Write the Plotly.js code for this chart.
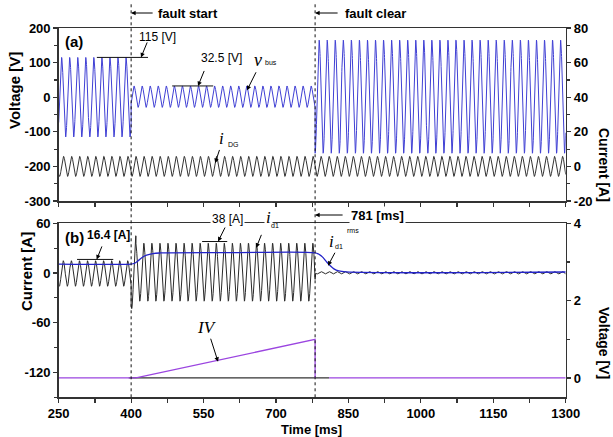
<!DOCTYPE html>
<html><head><meta charset="utf-8">
<script src="https://cdn.plot.ly/plotly-3.0.1.min.js"></script>
<style>html,body{margin:0;padding:0;background:#fff}#chart{width:613px;height:437px}</style>
</head><body><div id="chart"></div>
<script>
// ---------- data ----------
const gridFreqHz = 60;                      // waveform frequency
const segEdges   = [250, 400, 781, 1300];   // ms: before fault / fault / after clear
const vbusAmp    = [115, 31, 163.5];        // V peak per segment
const vbusOffset = [0, 1.5, 1.5];
const vbusPeakMs = 256;
const iDGAmp     = [5.8, 5.8, 5.8];         // A peak per segment
const iDGOffset  = [0, 0, 0];
const iDGPeakMs  = 260;
const id1Edges   = [250, 400, 410, 781, 1300];
const id1Amp     = [15.4, 44, 35, 1.5];     // A peak per segment
const id1Offset  = [-0.6, 1, 1, 0.3];
const id1PeakMs  = 259.5;
const rmsTime = [250, 400, 406, 414, 422, 432, 445, 460, 600, 781, 788, 796, 804, 812, 820, 830, 845, 1300];
const rmsAmp  = [10.8, 10.8, 11.5, 14.5, 18.5, 21.5, 23.5, 24.2, 24.6, 24.4, 23, 19.5, 14, 9, 5, 2.5, 1.3, 1.2];
const ivTime = [250, 400, 410, 781, 781, 781, 810, 1300];
const ivVolt = [0, 0, 0, 1.0, 0, null, 0, 0];
const baseTime = [395, 810];
const baseVolt = [0, 0];
const faultStartMs = 400, faultClearMs = 781;
const xTickVals  = [250, 400, 550, 700, 850, 1000, 1150, 1300];
const xTickText  = ['250', '400', '550', '700', '850', '1000', '1150', '1300'];
const yaTickVals = [200, 100, 0, -100, -200, -300];
const yaTickText = ['200', '100', '0', '-100', '-200', '-300'];
const ya2TickVals = [80, 60, 40, 20, 0, -20];
const ya2TickText = ['80', '60', '40', '20', '0', '-20'];
const ybTickVals = [60, 0, -60, -120];
const ybTickText = ['60', '0', '-60', '-120'];
const yb2TickVals = [4, 2, 0];
const yb2TickText = ['4', '2', '0'];

// ---------- build sampled waveforms from the segment values ----------
function wave(edges, amps, offs, peakMs) {
  const xs = [], ys = [];
  for (let s = 0; s < amps.length; s++) {
    for (let t = edges[s]; t <= edges[s + 1] + 1e-9; t += 0.2) {
      xs.push(t);
      ys.push(offs[s] + amps[s] * Math.cos(2 * Math.PI * gridFreqHz * (t - peakMs) / 1000));
    }
  }
  return {xs, ys};
}
const vb = wave(segEdges, vbusAmp, vbusOffset, vbusPeakMs);
const dg = wave(segEdges, iDGAmp, iDGOffset, iDGPeakMs);
const d1 = wave(id1Edges, id1Amp, id1Offset, id1PeakMs);

const traces = [
  {x: vb.xs, y: vb.ys, xaxis: 'x', yaxis: 'y', mode: 'lines', line: {color: '#4040d4', width: 1}},
  {x: dg.xs, y: dg.ys, xaxis: 'x', yaxis: 'y2', mode: 'lines', line: {color: '#333333', width: 1}},
  {x: d1.xs, y: d1.ys, xaxis: 'x2', yaxis: 'y3', mode: 'lines', line: {color: '#2a2a2a', width: 1}},
  {x: rmsTime, y: rmsAmp, xaxis: 'x2', yaxis: 'y3', mode: 'lines', line: {color: '#2323c8', width: 1.3, shape: 'spline'}},
  {x: baseTime, y: baseVolt, xaxis: 'x2', yaxis: 'y4', mode: 'lines', line: {color: '#333333', width: 1.3}},
  {x: ivTime, y: ivVolt, xaxis: 'x2', yaxis: 'y4', mode: 'lines', connectgaps: false, line: {color: '#9b45e0', width: 1.3}}
];

const W = 613, H = 437;
const px = v => v / W, py = v => 1 - v / H;
const XD = [px(58.7), px(565.7)];
const tf = {family: 'Liberation Sans, Arial, sans-serif', size: 13, color: '#000', weight: 'bold'};
const bold = arr => arr.map(s => '<b>' + s + '</b>');
const axLine = {showline: true, linecolor: '#333', linewidth: 1.5, showgrid: false, zeroline: false,
  ticks: 'outside', ticklen: 4, tickwidth: 1.2, tickcolor: '#333', tickfont: tf};

const layout = {
  width: W, height: H, margin: {l: 0, r: 0, t: 0, b: 0},
  paper_bgcolor: '#fff', plot_bgcolor: '#fff', showlegend: false,
  xaxis: Object.assign({}, axLine, {domain: XD, anchor: 'y', range: [250, 1300], tickvals: xTickVals,
    showticklabels: false, mirror: true, minor: {dtick: 75, tick0: 250, ticks: 'outside', ticklen: 4, tickcolor: '#333'}}),
  yaxis: Object.assign({}, axLine, {domain: [py(201), py(28)], anchor: 'x', range: [-300, 200],
    tickvals: yaTickVals, ticktext: bold(yaTickText),
    minor: {dtick: 50, ticks: 'outside', ticklen: 3, tickcolor: '#333'}}),
  yaxis2: Object.assign({}, axLine, {overlaying: 'y', side: 'right', anchor: 'x', range: [-20, 80],
    tickvals: ya2TickVals, ticktext: bold(ya2TickText),
    minor: {dtick: 10, ticks: 'outside', ticklen: 3, tickcolor: '#333'}}),
  xaxis2: Object.assign({}, axLine, {domain: XD, anchor: 'y3', range: [250, 1300],
    tickvals: xTickVals, ticktext: bold(xTickText),
    mirror: true, minor: {dtick: 75, tick0: 250, ticks: 'outside', ticklen: 4, tickcolor: '#333'}}),
  yaxis3: Object.assign({}, axLine, {domain: [py(397.3), py(223.3)], anchor: 'x2', range: [-150, 60],
    tickvals: ybTickVals, ticktext: bold(ybTickText),
    minor: {dtick: 30, tick0: 0, ticks: 'outside', ticklen: 3, tickcolor: '#333'}}),
  yaxis4: Object.assign({}, axLine, {overlaying: 'y3', side: 'right', anchor: 'x2', range: [-0.5, 4],
    tickvals: yb2TickVals, ticktext: bold(yb2TickText),
    minor: {dtick: 1, tick0: 0, ticks: 'outside', ticklen: 3, tickcolor: '#333'}}),
  shapes: [faultStartMs, faultClearMs].map(t => ({type: 'line', xref: 'x', yref: 'paper', x0: t, x1: t,
    y0: py(397.3), y1: py(3), line: {color: '#111', width: 1, dash: 'dot'}})).concat([
    {type: 'line', xref: 'x', yref: 'y', x0: 329, x1: 435, y0: vbusAmp[0], y1: vbusAmp[0], line: {color: '#111', width: 1}},
    {type: 'line', xref: 'x', yref: 'y', x0: 485, x1: 570, y0: 32.5, y1: 32.5, line: {color: '#111', width: 1}},
    {type: 'line', xref: 'x2', yref: 'y3', x0: 288, x1: 363, y0: 16.4, y1: 16.4, line: {color: '#111', width: 1}},
    {type: 'line', xref: 'x2', yref: 'y3', x0: 547, x1: 599, y0: 38, y1: 38, line: {color: '#111', width: 1}}
  ])
};

const serif = 'Liberation Serif, Times New Roman, serif';
function txt(x, y, text, size, opts) {
  return Object.assign({xref: 'paper', yref: 'paper', x: px(x), y: py(y), text: text, showarrow: false,
    xanchor: 'center', yanchor: 'middle', font: {family: tf.family, size: size, color: '#000'}}, opts || {});
}
function arrow(xref, yref, x, y, ax, ay) {
  return {xref: xref, yref: yref, x: x, y: y, ax: ax, ay: ay, text: ' ', showarrow: true,
    arrowhead: 2, arrowsize: 0.9, arrowwidth: 1, arrowcolor: '#000', standoff: 0, startstandoff: 0, font: {size: 1}};
}
const B = s => '<b>' + s + '</b>';
layout.annotations = [
  txt(14, 91, B('Voltage [V]'), 15, {textangle: -90}),
  txt(26, 272, B('Current [A]'), 15, {textangle: -90}),
  txt(604, 165, B('Current [A]'), 14, {textangle: 90}),
  txt(604, 343, B('Voltage [V]'), 14, {textangle: 90}),
  txt(311, 429, B('Time [ms]'), 13),
  txt(74, 41, B('(a)'), 15),
  txt(74, 237, B('(b)'), 15),
  txt(188, 13, B('fault start'), 13),
  txt(375, 13, B('fault clear'), 13),
  txt(378, 215, B('781 [ms]'), 13, {bgcolor: '#fff'}),
  txt(157, 37, '115 [V]', 12),
  txt(221, 58, '32.5 [V]', 12),
  txt(258, 60, '<i>v</i>', 18, {font: {family: serif, size: 18, color: '#000'}}),
  txt(271, 63, 'bus', 7),
  txt(221, 138, '<i>i</i>', 17, {font: {family: serif, size: 17, color: '#000'}}),
  txt(234, 145, 'DG', 7),
  txt(108, 235, B('16.4 [A]'), 12),
  txt(227, 219, '38 [A]', 12, {bgcolor: '#fff'}),
  txt(268, 217, '<i>i</i>', 17, {font: {family: serif, size: 17, color: '#000'}, bgcolor: '#fff'}),
  txt(275, 225, 'd1', 7),
  txt(331, 241, '<i>i</i>', 17, {font: {family: serif, size: 17, color: '#000'}}),
  txt(353, 231, 'rms', 7),
  txt(339, 247, 'd1', 7),
  txt(207, 327, '<i>IV</i>', 17, {font: {family: serif, size: 17, color: '#000'}}),
  arrow('x', 'y', 420.4, 115, 7, -17),
  arrow('x', 'y', 538.5, 32.5, 7, -17),
  arrow('x', 'y', 640, 20, 10, -20),
  arrow('x', 'y2', 574, 2, 5, -15),
  arrow('x2', 'y3', 328.7, 16.4, 6, -15),
  arrow('x2', 'y3', 580, 38, 8, -16),
  arrow('x2', 'y3', 659, 30.4, 6, -15),
  arrow('x2', 'y3', 807.7, 8.8, 8, -15),
  arrow('x2', 'y4', 580, 0.42, -8, -25),
  arrow('x', 'paper', faultStartMs, py(13), 23, 0),
  arrow('x', 'paper', faultClearMs, py(13), 24, 0),
  arrow('x', 'paper', faultClearMs, py(215), 29, 0)
];

Plotly.newPlot('chart', traces, layout, {staticPlot: true, displayModeBar: false});
</script></body></html>
